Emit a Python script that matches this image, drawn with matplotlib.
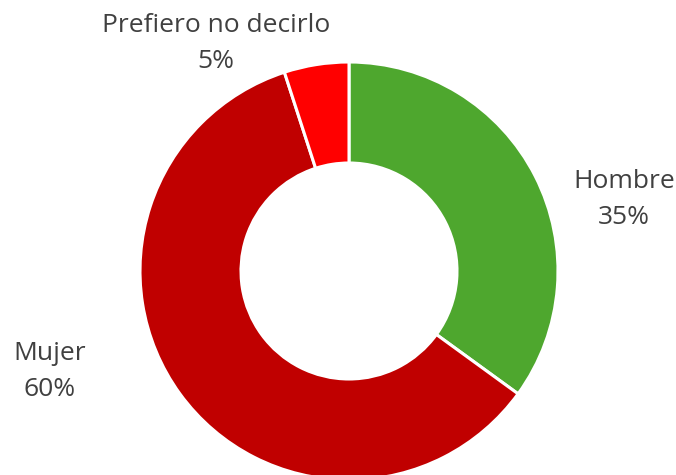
import matplotlib
matplotlib.use("Agg")
import matplotlib.pyplot as plt

categories = ["Hombre", "Mujer", "Prefiero no decirlo"]
values = [35, 60, 5]
pct_labels = ["35%", "60%", "5%"]
colors = ["#4EA72E", "#C00000", "#FF0000"]

fig = plt.figure(figsize=(6.76, 4.75), dpi=100)
ax = fig.add_axes([0, 0, 1, 1])
ax.pie(values, colors=colors, startangle=-90, counterclock=True,
       center=(349, 271), radius=209,
       wedgeprops=dict(width=101, edgecolor="white", linewidth=2.2))
ax.set_xlim(0, 676)
ax.set_ylim(475, 0)
ax.set_aspect("equal")
ax.axis("off")

label_pos = [(624, 181), (50, 353), (216, 25)]
for cat, pct, (x, y) in zip(categories, pct_labels, label_pos):
    ax.text(x, y, cat, ha="center", va="center", fontsize=19,
            color="#404040", family="Open Sans")
    ax.text(x, y + 36, pct, ha="center", va="center", fontsize=19,
            color="#404040", family="Open Sans")

fig.savefig("out.png", dpi=100)
